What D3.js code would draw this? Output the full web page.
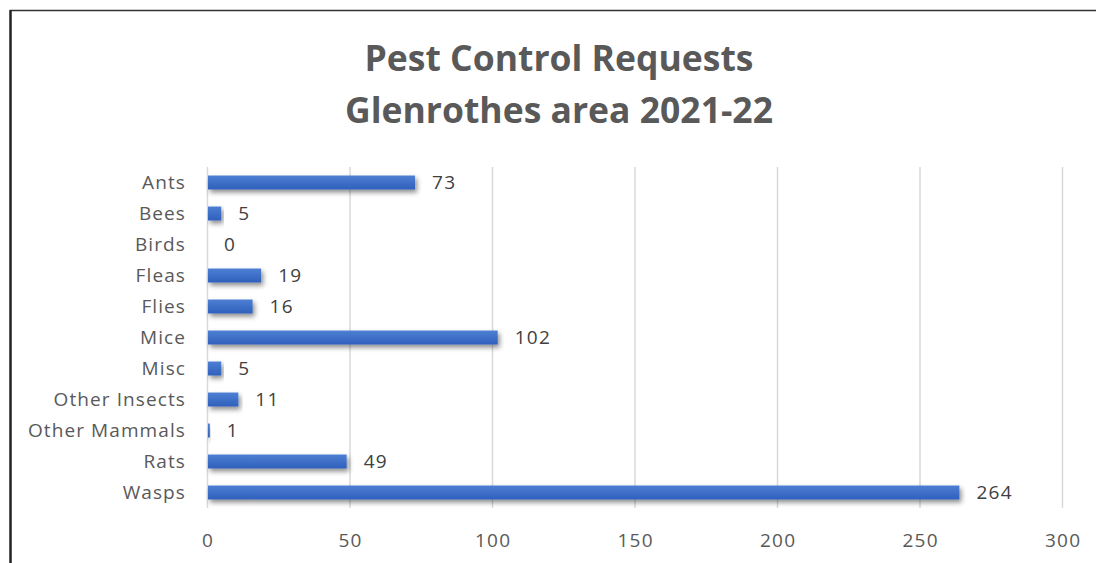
<!DOCTYPE html>
<html><head><meta charset="utf-8">
<script src="https://cdn.jsdelivr.net/npm/d3@7"></script>
<style>
html,body{margin:0;padding:0;background:#fff;}
svg{display:block;}
text{font-family:"Open Sans","Noto Sans",sans-serif;}
</style></head>
<body>
<script>
const categories = ["Ants","Bees","Birds","Fleas","Flies","Mice","Misc","Other Insects","Other Mammals","Rats","Wasps"];
const values = [73,5,0,19,16,102,5,11,1,49,264];
const xTicks = [0,50,100,150,200,250,300];
const titleLines = ["Pest Control Requests","Glenrothes area 2021-22"];

const W = 1096, H = 563;
const svg = d3.select("body").append("svg").attr("width",W).attr("height",H);

const defs = svg.append("defs");
const grad = defs.append("linearGradient").attr("id","barGrad").attr("x1",0).attr("y1",0).attr("x2",0).attr("y2",1);
grad.append("stop").attr("offset","0%").attr("stop-color","#4d7fd4");
grad.append("stop").attr("offset","100%").attr("stop-color","#2f60bb");
const filt = defs.append("filter").attr("id","shadow").attr("x","-5%").attr("y","-50%").attr("width","120%").attr("height","250%");
filt.append("feDropShadow").attr("dx",2).attr("dy",3).attr("stdDeviation",2.5).attr("flood-color","#000").attr("flood-opacity",0.45);

// frame
svg.append("line").attr("x1",10).attr("y1",10.5).attr("x2",1096).attr("y2",10.5).attr("stroke","#333").attr("stroke-width",1.5);
svg.append("line").attr("x1",10.5).attr("y1",10).attr("x2",10.5).attr("y2",H).attr("stroke","#222").attr("stroke-width",2.5);

// title
svg.append("g").selectAll("text").data(titleLines).join("text")
  .attr("x",559).attr("y",(d,i)=>57+i*52)
  .attr("text-anchor","middle").attr("dominant-baseline","central")
  .attr("font-size",35.5).attr("font-weight","bold").attr("fill","#595959")
  .text(d=>d);

const x = d3.scaleLinear().domain([0,300]).range([207,1062]);
const y = d3.scaleBand().domain(categories).range([167,508]).paddingInner(0.55).paddingOuter(0.275);

// gridlines
svg.append("g").selectAll("line").data(xTicks).join("line")
  .attr("x1",d=>x(d)+0.5).attr("x2",d=>x(d)+0.5)
  .attr("y1",167).attr("y2",508)
  .attr("stroke","#d9d9d9").attr("stroke-width",1.5);

// x axis labels
const xAxis = d3.axisBottom(x).tickValues(xTicks).tickSize(0).tickPadding(0);
const gx = svg.append("g").attr("transform","translate(0,540)").call(xAxis);
gx.select(".domain").remove();
gx.selectAll("text").attr("font-size",19).attr("fill","#595959").attr("dy","0.35em").attr("y",0)
  .attr("dx",0.6).attr("letter-spacing",1.2)
  .style("font-family",'"Open Sans","Noto Sans",sans-serif');

// y axis labels
const yAxis = d3.axisLeft(y).tickSize(0).tickPadding(0);
const gy = svg.append("g").attr("transform","translate(186,0)").call(yAxis);
gy.select(".domain").remove();
gy.selectAll("text").attr("font-size",19).attr("fill","#595959").attr("letter-spacing",1.1)
  .style("font-family",'"Open Sans","Noto Sans",sans-serif');

// bars
svg.append("g").selectAll("rect").data(values).join("rect")
  .attr("x",x(0)+1)
  .attr("y",(d,i)=>y(categories[i]))
  .attr("width",d=>Math.max(0,x(d)-x(0)-1))
  .attr("height",y.bandwidth())
  .attr("fill","url(#barGrad)")
  .attr("filter","url(#shadow)");

// value labels
svg.append("g").selectAll("text").data(values).join("text")
  .attr("x",d=>x(d)+17)
  .attr("y",(d,i)=>y(categories[i])+y.bandwidth()/2)
  .attr("dy","0.35em")
  .attr("font-size",19).attr("letter-spacing",1.3).attr("fill","#404040")
  .text(d=>d);
</script>
</body></html>
